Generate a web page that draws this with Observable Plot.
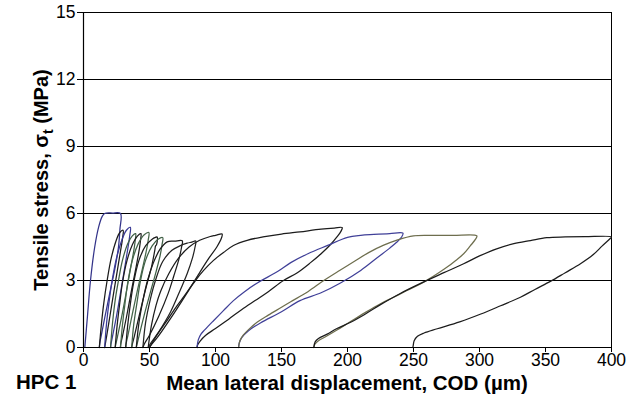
<!DOCTYPE html>
<html>
<head>
<meta charset="utf-8">
<script src="https://cdn.jsdelivr.net/npm/d3@7"></script>
<script src="https://cdn.jsdelivr.net/npm/@observablehq/plot@0.6"></script>
<style>
  html, body { margin: 0; padding: 0; background: #fff; }
  #chart { width: 639px; height: 405px; }
</style>
</head>
<body>
<div id="chart"></div>
<script>
// ---- Data ----
const xTicks = [0, 50, 100, 150, 200, 250, 300, 350, 400];
const yTicks = [0, 3, 6, 9, 12, 15];
const gridValues = [3, 6, 9, 12, 15];

const cycle01 = [[1,0],[3,1.4],[5.3,3],[8.5,4.5],[11.5,5.4],[14,5.85],[16,6.0],[22,6.02],[28,6.0],[27.6,5.3],[26.5,4.5],[24,3.6],[20.5,2.6],[17,1.6],[14,0.7],[12.5,0.25],[12,0]];
const cycle02 = [[12,0],[13.5,1.0],[15.4,2.0],[17.9,3.0],[21,4.0],[24.5,4.75],[27.5,5.15],[30,5.25],[29.6,4.9],[28,4.3],[25.5,3.4],[23,2.5],[20,1.4],[17.5,0.5],[16.5,0.15],[16,0]];
const cycle03 = [[16,0],[17.5,1.1],[19.5,2.1],[21.7,3.0],[25,4.0],[29,4.8],[32.5,5.25],[35.5,5.38],[35,5.0],[33.5,4.4],[31,3.5],[28.5,2.6],[25,1.4],[22,0.5],[20.8,0.15],[20.5,0]];
const cycle04 = [[20.5,0],[22,1.1],[24.2,2.2],[26.5,3.0],[29.5,3.9],[33.5,4.65],[37,5.0],[39.5,5.1],[39.2,4.8],[38,4.3],[35.5,3.5],[32.5,2.5],[29,1.4],[25.8,0.5],[24.5,0.15],[24,0]];
const cycle05 = [[24,0],[25.5,1.0],[27.5,2.0],[29.5,2.9],[33,3.9],[37,4.6],[41,5.0],[43.5,5.1],[43.2,4.8],[42,4.3],[39.5,3.5],[36.5,2.6],[33,1.5],[29.5,0.5],[28.2,0.15],[28,0]];
const cycle06 = [[28,0],[29.5,1.0],[31.5,2.0],[33.5,2.9],[37,3.9],[41.5,4.65],[46,5.05],[49.5,5.15],[49,4.8],[47.5,4.3],[44.5,3.5],[41,2.6],[37,1.5],[33.5,0.5],[32.2,0.15],[32,0]];
const cycle07 = [[32,0],[33.5,1.0],[35.6,2.0],[38,2.9],[42,3.9],[47,4.55],[52,4.85],[54.5,4.93],[55.8,4.95],[55.3,4.6],[54.6,4.55],[54,4.35],[51.5,3.6],[47,2.6],[42.5,1.5],[38.5,0.5],[37,0.15],[36.5,0]];
const cycle08 = [[36.5,0],[38,1.0],[40.5,2.0],[43.2,3.0],[47,3.9],[52,4.55],[56.5,4.85],[60,4.92],[59.5,4.6],[58,4.1],[55,3.4],[50.8,2.5],[46,1.45],[42,0.5],[40.6,0.15],[40,0]];
const cycle09 = [[40,0],[42,1.1],[45,2.1],[48.5,3.0],[53,3.8],[58,4.4],[63.4,4.73],[69,4.76],[74.8,4.78],[74.3,4.5],[72.5,4.0],[68.4,3.2],[64,2.4],[57,1.4],[50,0.55],[46,0.15],[45,0]];
const cycle10 = [[45,0],[47,1.1],[50.8,2.2],[54.5,3.0],[60,3.85],[67,4.35],[73,4.55],[78.5,4.67],[82,4.72],[85,4.77],[84.5,4.5],[82.5,4.0],[78.5,3.3],[73.5,2.6],[66,1.6],[57,0.7],[51,0.2],[49,0]];
const cycle11 = [[49,0],[51.5,1.0],[55,1.9],[58.3,2.5],[64.6,3.3],[72,4.0],[80,4.5],[88,4.8],[96,4.97],[100,5.02],[105,5.08],[104.5,4.9],[101,4.5],[95,4.0],[87.4,3.3],[78,2.4],[66,1.3],[56,0.45],[51,0.1],[50,0]];
const cycle12 = [[50,0],[55,0.5],[62,1.1],[70,1.8],[75,2.2],[84.8,3.0],[91,3.45],[98.5,3.9],[106,4.25],[113.6,4.57],[124,4.8],[136,4.95],[150,5.08],[164,5.18],[180,5.3],[190,5.35],[196,5.37],[195,5.2],[192,4.95],[187,4.6],[180,4.2],[172,3.8],[162,3.35],[151.5,3.0],[140,2.5],[130,2.1],[120,1.7],[110,1.27],[100,0.85],[92.4,0.54],[88.5,0.3],[86.5,0.12],[86,0]];
const cycle13 = [[86,0],[87,0.35],[89,0.6],[92,0.8],[98.5,1.2],[106,1.65],[113.6,2.1],[122,2.5],[132,2.9],[147,3.4],[157,3.8],[170,4.2],[185,4.57],[200,4.93],[210,5.02],[220,5.06],[232,5.1],[242,5.12],[241,4.95],[237,4.7],[232,4.45],[222.7,4.03],[210,3.45],[195,2.9],[180,2.45],[164,2.1],[150,1.6],[134,1.1],[125,0.75],[120,0.45],[118,0.2],[117.5,0]];
const cycle14 = [[117.5,0],[118.5,0.3],[121,0.55],[125,0.8],[132,1.15],[140,1.45],[150,1.8],[157,2.05],[170,2.5],[182,3.0],[194,3.45],[205,3.85],[216,4.25],[227,4.57],[238,4.82],[250,5.0],[265,5.02],[280,5.02],[298,5.0],[297,4.85],[293,4.55],[288,4.2],[282,3.9],[275.5,3.6],[268,3.3],[259,2.97],[245,2.55],[235,2.25],[225,1.96],[213,1.55],[202,1.15],[192,0.78],[184,0.5],[178,0.3],[175,0.12],[174.5,0]];
const cycle15 = [[174.5,0],[175.5,0.25],[178,0.4],[184.6,0.6],[192,0.85],[202,1.12],[213,1.48],[225,1.92],[240,2.42],[259,2.97],[273,3.35],[288,3.75],[300,4.1],[313,4.42],[326,4.65],[338.6,4.79],[351,4.92],[365,4.95],[380,4.96],[400,4.95],[399,4.88],[393,4.55],[386,4.15],[376.5,3.75],[365,3.35],[354,2.97],[342,2.6],[331,2.25],[316,1.87],[301,1.5],[285,1.15],[268,0.84],[258,0.65],[253,0.5],[250.5,0.3],[249.8,0.1],[249.5,0]];

const cycles = [cycle01, cycle02, cycle03, cycle04, cycle05, cycle06, cycle07, cycle08, cycle09, cycle10, cycle11, cycle12, cycle13, cycle14, cycle15];
const cycleColors = ["#34348a", "#1c1c1c", "#3a3a96", "#3f5f45", "#1c1c1c", "#46664a", "#1c1c1c", "#3f5f45", "#1c1c1c", "#222222", "#1c1c1c", "#1c1c1c", "#404098", "#6e6e4e", "#1c1c1c"];

const rows = cycles.flatMap((c, i) => c.map(([x, y]) => ({cycle: i, x, y, color: cycleColors[i]})));

const FONT = "'Liberation Sans', Arial, Helvetica, sans-serif";

const plot = Plot.plot({
  width: 639,
  height: 405,
  marginLeft: 83,
  marginRight: 28,
  marginTop: 12,
  marginBottom: 58,
  style: {fontFamily: FONT, fontSize: "17.5px", color: "#000", background: "#fff", overflow: "visible"},
  x: {domain: [0, 400]},
  y: {domain: [0, 15]},
  marks: [
    Plot.ruleY(gridValues, {stroke: "#000", strokeWidth: 1}),
    Plot.ruleX([400], {y1: 0, y2: 15, stroke: "#000", strokeWidth: 1}),
    Plot.line(rows, {x: "x", y: "y", z: "cycle", stroke: "color", strokeWidth: 1.25, curve: "catmull-rom"}),
    Plot.ruleX([0], {y1: 0, y2: 15, stroke: "#000", strokeWidth: 1.2}),
    Plot.ruleY([0], {stroke: "#000", strokeWidth: 1.2}),
    Plot.axisX({ticks: xTicks, tickSize: 5, tickPadding: 1, label: null, fontSize: 17.5}),
    Plot.axisY({ticks: yTicks, tickSize: 6, tickPadding: 2, label: null, fontSize: 17.5})
  ]
});

document.getElementById("chart").appendChild(plot);

const svg = d3.select(plot);
// y-axis label with subscript
const yl = svg.append("text")
  .attr("transform", "translate(48,180) rotate(-90)")
  .attr("text-anchor", "middle")
  .attr("font-family", FONT)
  .attr("font-weight", "bold")
  .attr("font-size", 20)
  .attr("fill", "#000");
yl.append("tspan").text("Tensile stress, σ");
yl.append("tspan").attr("font-size", 14).attr("dy", 5).text("t");
yl.append("tspan").attr("dy", -5).text(" (MPa)");

svg.append("text")
  .attr("x", 347).attr("y", 390)
  .attr("text-anchor", "middle")
  .attr("font-family", FONT)
  .attr("font-weight", "bold")
  .attr("font-size", 20.5)
  .attr("fill", "#000")
  .text("Mean lateral displacement, COD (µm)");

svg.append("text")
  .attr("x", 16).attr("y", 389)
  .attr("text-anchor", "start")
  .attr("font-family", FONT)
  .attr("font-weight", "bold")
  .attr("font-size", 20.5)
  .attr("fill", "#000")
  .text("HPC 1");
</script>
</body>
</html>
